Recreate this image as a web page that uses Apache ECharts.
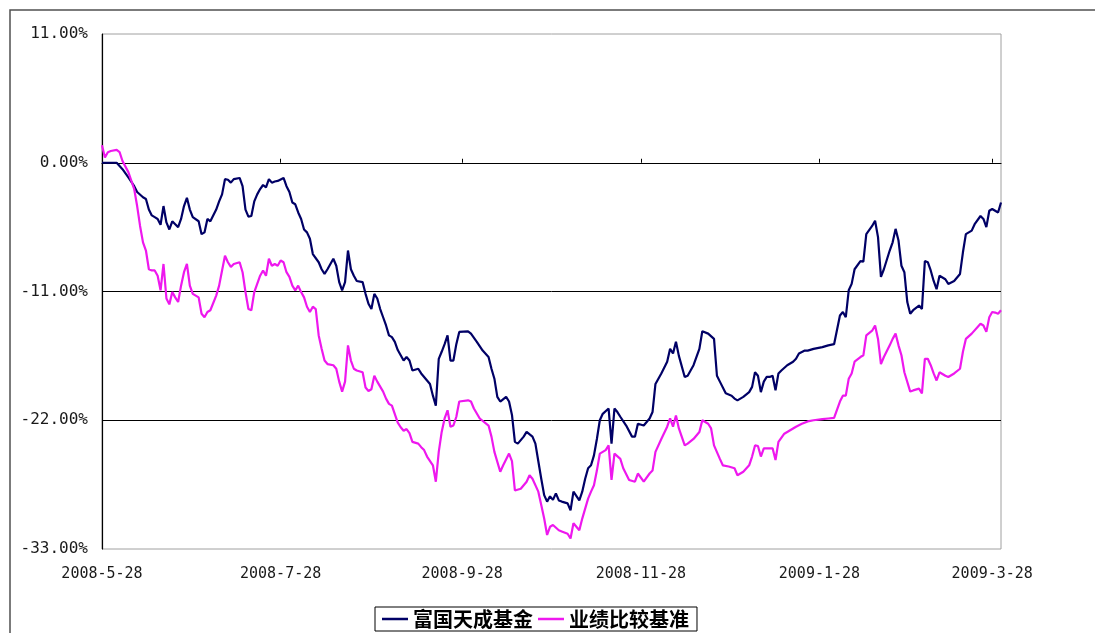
<!DOCTYPE html>
<html>
<head>
<meta charset="utf-8">
<script src="https://cdn.jsdelivr.net/npm/echarts@6/dist/echarts.min.js"></script>
<style>
html,body{margin:0;padding:0;background:#fff;}
#chart{width:1095px;height:633px;}
</style>
</head>
<body>
<div id="chart"></div>
<script>
// ---- data ----
const startDate = '2008-05-28';
const endDate = '2009-03-31';
const tickLabels = ['2008-5-28', '2008-7-28', '2008-9-28', '2008-11-28', '2009-1-28', '2009-3-28'];
const seriesNames = ['富国天成基金', '业绩比较基准'];
const yMin = -33, yMax = 11, yStep = 11;

// [days since startDate, cumulative return %]
const fundPoints = [
  [0,0],[5,0],[7,-0.55],[9,-1.25],[11,-2.0],[12,-2.5],[14,-2.95],[15,-3.1],[16,-4.0],[17,-4.5],
  [18,-4.65],[19,-4.8],[20,-5.3],[21,-3.7],[22,-5.1],[23,-5.7],[24,-5.0],[25,-5.25],[26,-5.5],[27,-4.8],
  [28,-3.7],[29,-3.0],[30,-4.0],[31,-4.65],[33,-5.0],[34,-6.1],[35,-5.95],[36,-4.8],[37,-5.0],[39,-4.0],
  [40,-3.3],[41,-2.7],[42,-1.4],[43,-1.45],[44,-1.7],[45,-1.4],[47,-1.3],[48,-2.0],[49,-4.0],[50,-4.6],
  [51,-4.55],[52,-3.3],[53,-2.7],[54,-2.25],[55,-1.9],[56,-2.1],[57,-1.4],[58,-1.7],[59,-1.6],[60,-1.55],
  [62,-1.3],[63,-2.0],[64,-2.5],[65,-3.4],[66,-3.55],[67,-4.25],[68,-4.8],[69,-5.7],[70,-5.95],[71,-6.5],
  [72,-7.8],[74,-8.5],[75,-9.1],[76,-9.5],[77,-9.1],[78,-8.65],[79,-8.2],[80,-8.8],[81,-10.2],[82,-10.9],
  [83,-10.2],[84,-7.5],[85,-9.1],[86,-9.65],[87,-10.1],[89,-10.2],[90,-11.2],[91,-12.05],[92,-12.5],[93,-11.2],
  [94,-11.6],[95,-12.5],[96,-13.2],[97,-13.9],[98,-14.75],[99,-14.9],[100,-15.3],[101,-16.0],[103,-16.9],[104,-16.6],
  [105,-16.9],[106,-17.75],[108,-17.6],[109,-18.0],[111,-18.6],[112,-18.9],[113,-19.9],[114,-20.75],[115,-16.75],[116,-16.15],
  [117,-15.5],[118,-14.75],[119,-16.9],[120,-16.9],[121,-15.5],[122,-14.45],[125,-14.4],[126,-14.6],[128,-15.3],[130,-16.05],
  [132,-16.6],[133,-17.6],[134,-18.45],[135,-20.0],[136,-20.4],[138,-20.0],[139,-20.4],[140,-21.55],[141,-23.85],[142,-24.0],
  [144,-23.4],[145,-23.0],[147,-23.4],[148,-24.0],[149,-25.5],[150,-27.0],[151,-28.4],[152,-28.95],[153,-28.5],[154,-28.8],
  [155,-28.25],[156,-28.85],[157,-28.95],[159,-29.1],[160,-29.7],[161,-28.1],[163,-28.85],[164,-28.1],[165,-27.0],[166,-26.1],
  [167,-25.85],[168,-25.0],[169,-23.6],[170,-22.0],[171,-21.45],[173,-21.0],[174,-24.0],[175,-21.0],[176,-21.3],[177,-21.7],
  [179,-22.45],[181,-23.4],[182,-23.4],[183,-22.3],[185,-22.45],[187,-21.85],[188,-21.3],[189,-18.9],[191,-18.0],[193,-17.0],
  [194,-15.9],[195,-16.3],[196,-15.3],[197,-16.5],[199,-18.3],[200,-18.2],[202,-17.3],[204,-15.9],[205,-14.4],[207,-14.6],
  [209,-15.05],[210,-18.2],[211,-18.7],[213,-19.7],[215,-19.9],[216,-20.15],[217,-20.3],[219,-20.0],[221,-19.6],[222,-19.15],
  [223,-17.9],[224,-18.2],[225,-19.6],[226,-18.7],[227,-18.3],[228,-18.3],[229,-18.2],[230,-19.45],[231,-18.0],[232,-17.75],
  [234,-17.3],[236,-17.0],[237,-16.75],[238,-16.3],[240,-16.05],[241,-16.05],[243,-15.9],[246,-15.75],[248,-15.6],[250,-15.5],
  [252,-13.05],[253,-12.75],[254,-13.2],[255,-10.9],[256,-10.35],[257,-9.1],[259,-8.4],[260,-8.45],[261,-6.1],[263,-5.4],
  [264,-4.95],[265,-6.35],[266,-9.75],[267,-9.1],[269,-7.5],[270,-6.8],[271,-5.65],[272,-6.65],[273,-8.8],[274,-9.35],
  [275,-11.9],[276,-12.9],[277,-12.6],[279,-12.2],[280,-12.5],[281,-8.4],[282,-8.5],[283,-9.2],[284,-10.1],[285,-10.8],
  [286,-9.65],[288,-9.95],[289,-10.35],[291,-10.1],[293,-9.5],[294,-7.65],[295,-6.1],[297,-5.8],[298,-5.25],[300,-4.55],
  [301,-4.8],[302,-5.5],[303,-4.1],[304,-3.95],[305,-4.1],[306,-4.25],[307,-3.4]
];

const benchPoints = [
  [0,1.5],[1,0.45],[2,0.9],[3,1.0],[5,1.1],[6,0.9],[7,0.15],[9,-0.8],[11,-2.25],[12,-3.7],
  [13,-5.4],[14,-6.8],[15,-7.5],[16,-9.1],[17,-9.2],[18,-9.2],[19,-9.65],[20,-10.9],[21,-8.65],[22,-11.6],
  [23,-12.1],[24,-11.05],[25,-11.5],[26,-11.9],[27,-10.5],[28,-9.35],[29,-8.65],[30,-10.5],[31,-11.2],[33,-11.5],
  [34,-12.9],[35,-13.2],[36,-12.75],[37,-12.6],[39,-11.35],[40,-10.5],[41,-9.2],[42,-7.95],[43,-8.5],[44,-8.9],
  [45,-8.65],[47,-8.5],[48,-9.35],[49,-11.05],[50,-12.5],[51,-12.6],[52,-11.05],[53,-10.35],[54,-9.65],[55,-9.2],
  [56,-9.65],[57,-8.2],[58,-8.8],[59,-8.65],[60,-8.8],[61,-8.35],[62,-8.5],[63,-9.35],[64,-9.75],[65,-10.5],
  [66,-10.9],[67,-10.5],[68,-11.05],[69,-11.5],[70,-12.3],[71,-12.75],[72,-12.3],[73,-12.5],[74,-14.75],[75,-15.9],
  [76,-16.9],[77,-17.2],[79,-17.3],[80,-17.6],[81,-18.7],[82,-19.55],[83,-18.7],[84,-15.6],[85,-16.9],[86,-17.6],
  [87,-17.75],[89,-17.9],[90,-19.2],[91,-19.5],[92,-19.35],[93,-18.2],[94,-18.7],[96,-19.55],[97,-20.15],[98,-20.6],
  [99,-20.75],[101,-22.2],[102,-22.6],[103,-22.9],[104,-22.75],[105,-23.1],[106,-23.85],[108,-24.0],[109,-24.3],[110,-24.55],
  [111,-25.1],[113,-25.85],[114,-27.25],[115,-24.7],[116,-23.0],[117,-21.85],[118,-21.15],[119,-22.55],[120,-22.45],[121,-21.7],
  [122,-20.4],[125,-20.3],[126,-20.4],[127,-21.0],[129,-21.85],[132,-22.45],[133,-23.4],[134,-24.7],[136,-26.4],[137,-25.85],
  [139,-24.85],[140,-25.5],[141,-28.0],[143,-27.85],[145,-27.25],[146,-26.7],[147,-27.0],[149,-28.1],[150,-29.25],[151,-30.4],
  [152,-31.8],[153,-31.1],[154,-30.95],[156,-31.4],[157,-31.5],[159,-31.7],[160,-32.1],[161,-30.8],[163,-31.4],[164,-30.4],
  [166,-28.7],[167,-28.1],[168,-27.55],[169,-26.3],[170,-24.85],[172,-24.55],[173,-24.15],[174,-27.1],[175,-24.85],[177,-25.3],
  [178,-26.1],[180,-27.1],[182,-27.25],[183,-26.55],[185,-27.25],[187,-26.55],[188,-26.3],[189,-24.7],[191,-23.6],[193,-22.55],
  [194,-21.85],[195,-22.55],[196,-21.6],[197,-22.7],[199,-24.15],[200,-24.0],[202,-23.6],[204,-23.0],[205,-22.0],[207,-22.3],
  [208,-22.7],[209,-24.15],[211,-25.3],[212,-25.85],[214,-25.95],[216,-26.1],[217,-26.7],[219,-26.4],[221,-25.85],[222,-25.1],
  [223,-24.15],[224,-24.2],[225,-25.1],[226,-24.4],[228,-24.4],[229,-24.4],[230,-25.4],[231,-23.85],[233,-23.15],[235,-22.85],
  [237,-22.55],[239,-22.3],[241,-22.1],[243,-22.0],[246,-21.9],[248,-21.85],[250,-21.8],[252,-20.4],[253,-19.9],[254,-19.9],
  [255,-18.45],[256,-18.0],[257,-17.0],[259,-16.6],[260,-16.45],[261,-14.75],[263,-14.35],[264,-13.9],[265,-15.05],[266,-17.2],
  [267,-16.6],[269,-15.6],[270,-15.05],[271,-14.6],[272,-15.6],[273,-16.45],[274,-17.9],[276,-19.55],[277,-19.45],[279,-19.3],
  [280,-19.7],[281,-16.75],[282,-16.75],[283,-17.3],[284,-18.0],[285,-18.6],[286,-17.9],[288,-18.2],[289,-18.3],[291,-18.0],
  [293,-17.6],[294,-16.15],[295,-15.05],[297,-14.6],[300,-13.75],[301,-13.9],[302,-14.45],[303,-13.2],[304,-12.75],[305,-12.8],
  [306,-12.9],[307,-12.6]
];

// ---- helpers ----
const DAY = 86400000;
function parseYMD(s) {
  const p = s.split('-').map(Number);
  return Date.UTC(p[0], p[1] - 1, p[2]);
}
const t0 = parseYMD(startDate);
const toDay = s => Math.round((parseYMD(s) - t0) / DAY);
const tickDays = tickLabels.map(toDay);
const lastDay = toDay(endDate);
const labelByDay = {};
tickDays.forEach((d, i) => { labelByDay[d] = tickLabels[i]; });

const chart = echarts.init(document.getElementById('chart'), null, { renderer: 'canvas' });
chart.setOption({
  animation: false,
  backgroundColor: '#ffffff',
  graphic: [{
    type: 'rect',
    shape: { x: 10, y: 10, width: 1200, height: 700 },
    style: { fill: 'none', stroke: '#505050', lineWidth: 1.5 },
    silent: true, z: 100
  }],
  grid: {
    left: 102, right: 94, top: 34, bottom: 84,
    show: true, borderColor: '#a0a0a0', borderWidth: 1, backgroundColor: '#ffffff'
  },
  legend: {
    left: 375, top: 607,
    orient: 'horizontal',
    padding: [2, 8, 2, 7],
    itemGap: 5,
    icon: 'rect',
    itemWidth: 26, itemHeight: 2.5,
    borderColor: '#000', borderWidth: 1,
    backgroundColor: '#fff',
    textStyle: { fontFamily: 'Noto Sans CJK SC', fontSize: 20, fontWeight: 'bold', color: '#000', lineHeight: 20 },
    data: seriesNames
  },
  xAxis: {
    type: 'value',
    min: 0, max: lastDay,
    axisLine: { show: true, lineStyle: { color: '#000', width: 1.2 } },
    axisTick: { show: true, inside: true, length: 4, customValues: tickDays, lineStyle: { color: '#000' } },
    axisLabel: {
      customValues: tickDays,
      margin: 18,
      fontFamily: 'DejaVu Sans Mono', fontSize: 15, color: '#1a1a1a',
      formatter: v => labelByDay[Math.round(v)] || ''
    },
    splitLine: { show: false }
  },
  yAxis: {
    type: 'value',
    min: yMin, max: yMax, interval: yStep,
    axisLine: { show: true, lineStyle: { color: '#000', width: 1.2 } },
    axisTick: { show: false },
    axisLabel: {
      margin: 14,
      padding: [6, 0, 0, 0],
      fontFamily: 'DejaVu Sans Mono', fontSize: 16, color: '#1a1a1a',
      formatter: v => v.toFixed(2) + '%'
    },
    splitLine: { show: true, showMinLine: false, showMaxLine: false, lineStyle: { color: '#000', width: 1 } }
  },
  series: [
    {
      name: seriesNames[0], type: 'line', data: fundPoints,
      symbol: 'none', lineStyle: { color: '#000066', width: 2.2 }, itemStyle: { color: '#000066' }
    },
    {
      name: seriesNames[1], type: 'line', data: benchPoints,
      symbol: 'none', lineStyle: { color: '#ee18ee', width: 2.2 }, itemStyle: { color: '#ee18ee' }
    }
  ]
});
</script>
</body>
</html>
